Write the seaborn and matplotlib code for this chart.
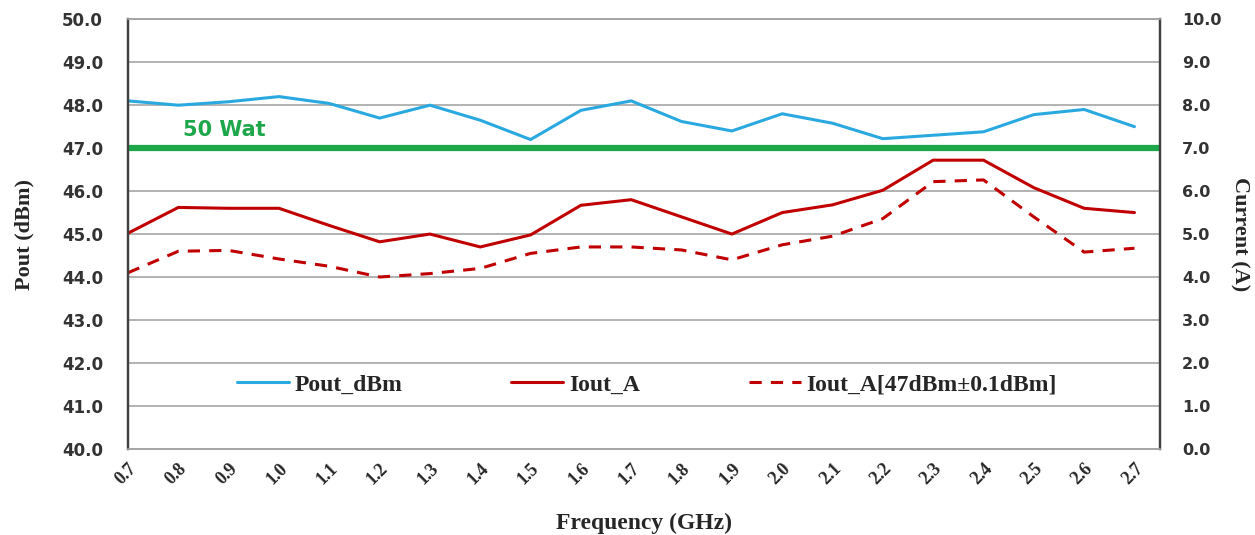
import numpy as np
import pandas as pd
import seaborn as sns
import matplotlib.pyplot as plt

# Data
freq = [0.7, 0.8, 0.9, 1.0, 1.1, 1.2, 1.3, 1.4, 1.5, 1.6, 1.7,
        1.8, 1.9, 2.0, 2.1, 2.2, 2.3, 2.4, 2.5, 2.6, 2.7]
pout_dbm = [48.1, 48.0, 48.08, 48.2, 48.04, 47.7, 48.0, 47.65, 47.2, 47.88, 48.1,
            47.62, 47.4, 47.8, 47.58, 47.22, 47.3, 47.38, 47.78, 47.9, 47.5]
iout_a = [5.02, 5.62, 5.6, 5.6, 5.2, 4.82, 5.0, 4.7, 4.98, 5.67, 5.8,
          5.4, 5.0, 5.5, 5.68, 6.02, 6.72, 6.72, 6.08, 5.6, 5.5]
iout_a_47 = [4.1, 4.6, 4.62, 4.42, 4.25, 4.0, 4.08, 4.2, 4.55, 4.7, 4.7,
             4.63, 4.4, 4.75, 4.95, 5.36, 6.22, 6.26, 5.4, 4.58, 4.67]
ref_level = 47.0
left_ticks = [40, 41, 42, 43, 44, 45, 46, 47, 48, 49, 50]
right_ticks = [0, 1, 2, 3, 4, 5, 6, 7, 8, 9, 10]

df = pd.DataFrame({"freq": freq, "pout": pout_dbm,
                   "iout": iout_a, "iout47": iout_a_47})

sns.set_theme(style="white")
serif = ["Liberation Serif", "DejaVu Serif"]
sans = ["DejaVu Sans"]

blue = "#2aa9e0"
red = "#c00000"
green = "#1ea64b"
grid_c = "#a6a6a6"
spine_c = "#404040"

fig = plt.figure(figsize=(12.55, 5.35), dpi=100)
ax = fig.add_axes([0.102, 0.161, 0.822, 0.803])
ax2 = ax.twinx()

sns.lineplot(data=df, x="freq", y="pout", ax=ax, color=blue, linewidth=2.2,
             label="Pout_dBm", legend=False)
sns.lineplot(data=df, x="freq", y="iout", ax=ax2, color=red, linewidth=2.2,
             label="Iout_A", legend=False)
sns.lineplot(data=df, x="freq", y="iout47", ax=ax2, color=red, linewidth=2.2,
             linestyle=(0, (4, 3)), label="Iout_A[47dBm±0.1dBm]", legend=False)

ax.axhline(ref_level, color=green, linewidth=4.5, zorder=5)
ax.text(0.81, ref_level + 0.2, "50 Wat", color=green, fontsize=15,
        fontweight="bold", family=sans, va="bottom", ha="left")

ax.set_xlim(0.7, 2.75)
ax.set_ylim(40, 50)
ax2.set_ylim(0, 10)

ax.set_yticks(left_ticks)
ax.set_yticklabels([f"{v:.1f}" for v in left_ticks], fontsize=12,
                   fontweight="bold", family=sans, color="#333333")
ax2.set_yticks(right_ticks)
ax2.set_yticklabels([f"{v:.1f}" for v in right_ticks], fontsize=11.5,
                    fontweight="bold", family=sans, color="#333333")

ax.set_xticks(freq)
ax.set_xticklabels([f"{v:.1f}" for v in freq], rotation=45, ha="right",
                   rotation_mode="anchor", fontsize=13, fontweight="bold",
                   family=serif)

ax.grid(axis="y", color=grid_c, linewidth=1.2)
ax.set_axisbelow(True)
ax.tick_params(axis="x", length=0, pad=8)
ax.tick_params(axis="y", length=0, pad=18)
ax2.tick_params(axis="y", length=0, pad=16)

for a in (ax, ax2):
    a.spines["left"].set_color(spine_c)
    a.spines["left"].set_linewidth(1.6)
    a.spines["right"].set_color(spine_c)
    a.spines["right"].set_linewidth(1.6)
    a.spines["top"].set_color(grid_c)
    a.spines["top"].set_linewidth(1.2)
    a.spines["bottom"].set_color(grid_c)
    a.spines["bottom"].set_linewidth(1.2)

ax.set_xlabel("Frequency (GHz)", fontsize=17, fontweight="bold", family=serif,
              labelpad=18)
ax.set_ylabel("Pout (dBm)", fontsize=16, fontweight="bold", family=serif,
              labelpad=20)
ax2.set_ylabel("Current (A)", fontsize=16, fontweight="bold", family=serif,
               rotation=270, labelpad=20)

handles = ax.get_lines()[:1] + ax2.get_lines()[:2]
labels = ["Pout_dBm", "Iout_A", "Iout_A[47dBm±0.1dBm]"]
leg = ax.legend(handles, labels, loc="center", bbox_to_anchor=(0.503, 0.149),
                ncol=3, frameon=False, handlelength=2.2, columnspacing=4.6,
                handletextpad=0.25, prop={"family": serif, "weight": "bold",
                                          "size": 17})

plt.savefig("out.png", dpi=100)
